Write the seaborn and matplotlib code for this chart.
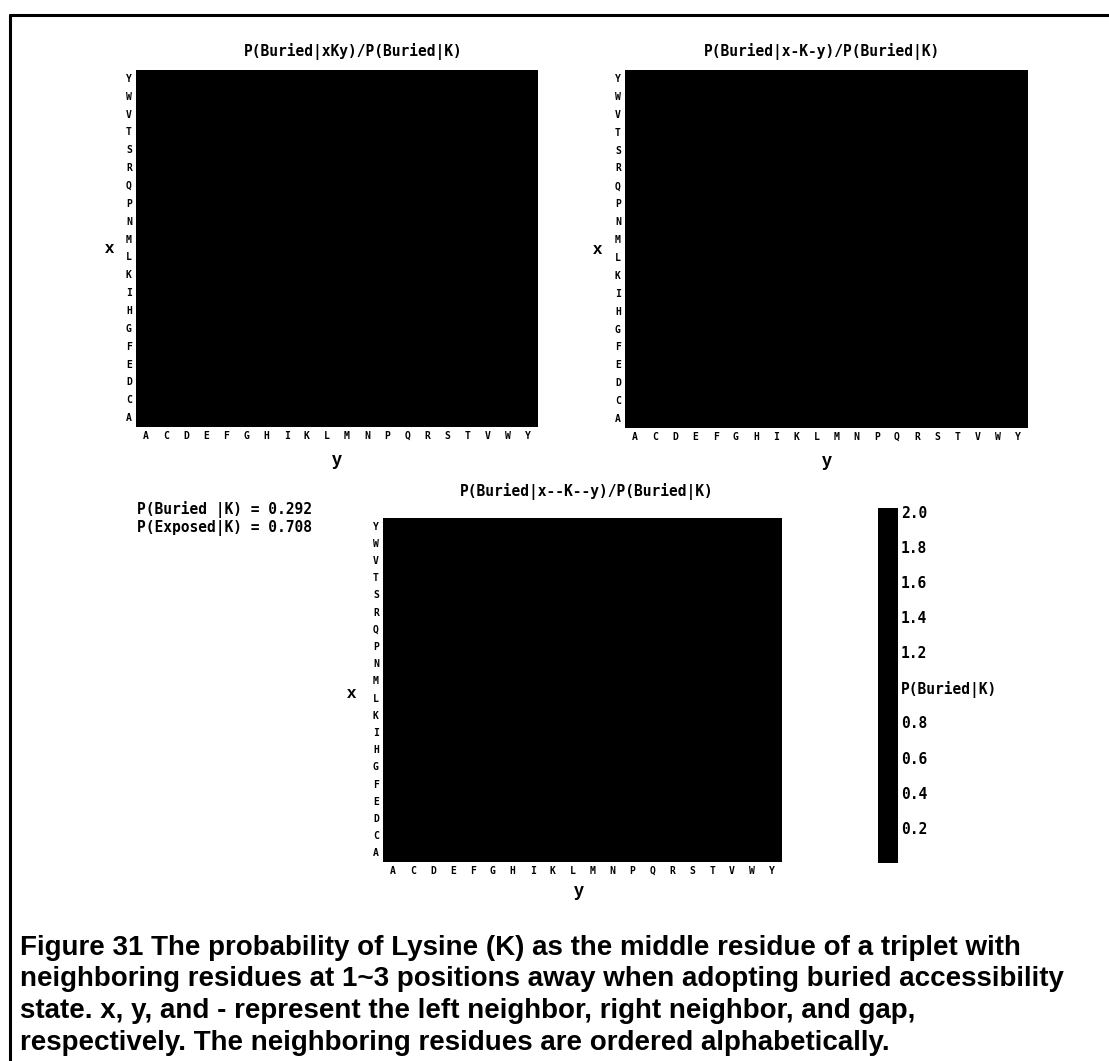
import numpy as np
import pandas as pd
import matplotlib
matplotlib.use("Agg")
import matplotlib.pyplot as plt
from matplotlib.colors import ListedColormap
from matplotlib.lines import Line2D
import seaborn as sns

sns.set_style("white")
plt.rcParams["text.color"] = "black"
plt.rcParams["xtick.color"] = "black"
plt.rcParams["ytick.color"] = "black"
plt.rcParams["axes.labelcolor"] = "black"

# residues, alphabetical (x runs bottom->top, y runs left->right)
residues = ["A", "C", "D", "E", "F", "G", "H", "I", "K", "L",
            "M", "N", "P", "Q", "R", "S", "T", "V", "W", "Y"]

# every cell in the scan is printed solid black, so no single value can be
# read; all cells are taken at the neutral ratio of 1.0
ratio_xKy = [[1.0] * 20 for _ in range(20)]
ratio_x_K_y = [[1.0] * 20 for _ in range(20)]
ratio_x__K__y = [[1.0] * 20 for _ in range(20)]

p_buried = 0.292
p_exposed = 0.708

cbar_ticks = [0.2, 0.4, 0.6, 0.8, 1.0, 1.2, 1.4, 1.6, 1.8, 2.0]
cbar_labels = ["0.2", "0.4", "0.6", "0.8", "P(Buried|K)", "1.2", "1.4", "1.6", "1.8", "2.0"]

caption = [
    "Figure 31 The probability of Lysine (K) as the middle residue of a triplet with",
    "neighboring residues at 1~3 positions away when adopting buried accessibility",
    "state. x, y, and - represent the left neighbor, right neighbor, and gap,",
    "respectively. The neighboring residues are ordered alphabetically.",
]

W, H = 1109, 1061
fig = plt.figure(figsize=(W / 100, H / 100), dpi=100)


def box(l, t, r, b):
    return [l / W, 1 - b / H, (r - l) / W, (b - t) / H]


mono = "DejaVu Sans Mono"
cmap = ListedColormap(["black"])


def draw(ax, values, title, title_x, title_y, xlab_pos, ylab_pos, cax=None):
    df = pd.DataFrame(values, index=residues, columns=residues).iloc[::-1]
    sns.heatmap(df, ax=ax, cmap=cmap, vmin=0, vmax=2.02,
                cbar=cax is not None, cbar_ax=cax)
    ax.tick_params(length=0, pad=3)
    ax.set_xticklabels(ax.get_xticklabels(), rotation=0, fontsize=7,
                       family=mono, weight="bold")
    ax.set_yticklabels(ax.get_yticklabels(), rotation=0, fontsize=7,
                       family=mono, weight="bold")
    ax.set_xlabel("y", fontsize=13, weight="bold", family="Liberation Sans")
    ax.set_ylabel("x", fontsize=12, weight="bold", family="Liberation Sans",
                  rotation=0, va="center")
    ax.xaxis.set_label_coords(*xlab_pos)
    ax.yaxis.set_label_coords(*ylab_pos)
    fig.text(title_x / W, 1 - title_y / H, title, ha="center", va="center",
             family=mono, weight="bold", fontsize=10.5)


ax1 = fig.add_axes(box(136, 70, 538, 427))
draw(ax1, ratio_xKy, "P(Buried|xKy)/P(Buried|K)", 353, 52,
     (0.5, -0.07), (-0.065, 0.5))

ax2 = fig.add_axes(box(625, 70, 1028, 428))
draw(ax2, ratio_x_K_y, "P(Buried|x-K-y)/P(Buried|K)", 822, 52,
     (0.5, -0.07), (-0.067, 0.5))

ax3 = fig.add_axes(box(383, 518, 782, 862))
cax = fig.add_axes(box(878, 508, 898, 863))
draw(ax3, ratio_x__K__y, "P(Buried|x--K--y)/P(Buried|K)", 587, 492,
     (0.49, -0.062), (-0.078, 0.49), cax=cax)

cax.set_yticks(cbar_ticks)
cax.set_yticklabels(cbar_labels, family=mono, weight="bold", fontsize=10.5)
cax.tick_params(length=0, pad=2)
for s in cax.spines.values():
    s.set_visible(False)

fig.text(137 / W, 1 - 509 / H, "P(Buried |K) = %.3f" % p_buried,
         family=mono, weight="bold", fontsize=10.5, va="center")
fig.text(137 / W, 1 - 528 / H, "P(Exposed|K) = %.3f" % p_exposed,
         family=mono, weight="bold", fontsize=10.5, va="center")

for i, line in enumerate(caption):
    fig.text(20 / W, 1 - (948 + 31.5 * i) / H, line, family="Liberation Sans",
             weight="bold", fontsize=20, va="center", color="black")

# page frame
fig.add_artist(Line2D([10 / W, 10 / W], [0, 1 - 15 / H], color="black",
                      lw=2.2, transform=fig.transFigure))
fig.add_artist(Line2D([10 / W, 1], [1 - 15 / H, 1 - 15 / H], color="black",
                      lw=2.2, transform=fig.transFigure))

fig.savefig("out.png", dpi=100)
